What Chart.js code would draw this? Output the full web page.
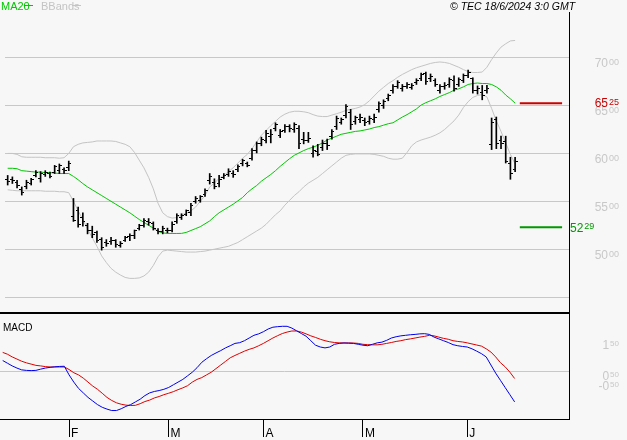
<!DOCTYPE html>
<html><head><meta charset="utf-8">
<script src="https://cdn.jsdelivr.net/npm/chart.js@4.4.1/dist/chart.umd.min.js"></script>
<style>
html,body{margin:0;padding:0;background:#f7f7f7;overflow:hidden}
#wrap{position:relative;width:627px;height:440px}
canvas{position:absolute;left:0}
#c1{top:0}
#c2{top:317px}
</style></head><body>
<div id="wrap"><canvas id="c1" width="627" height="317"></canvas><canvas id="c2" width="627" height="123"></canvas></div>
<script>
// ---- data (daily bars, 12 Jan 2024 .. 17 Jun 2024) ----
const opens  = [57.3,57.3,57.0,56.2,56.5,56.9,57.7,57.4,57.8,57.9,58.0,58.2,58.3,58.5,53.4,54.0,53.3,52.5,52.0,51.7,51.0,50.7,50.8,50.9,50.4,50.9,51.3,51.4,52.2,52.5,52.9,52.7,51.9,51.8,51.9,52.0,52.9,53.3,53.6,53.8,55.0,55.1,55.7,57.2,57.0,56.9,57.5,57.8,57.9,58.3,58.9,58.9,59.5,60.3,61.0,61.4,61.8,62.6,61.9,62.4,62.8,62.5,62.6,61.5,61.3,60.0,60.2,60.6,61.0,61.8,62.8,63.2,64.0,64.3,63.3,63.5,63.4,63.3,63.5,64.6,65.0,65.7,66.6,67.0,66.8,67.0,66.9,67.4,67.8,68.3,67.8,67.6,66.6,67.0,67.2,67.6,67.2,67.6,68.1,67.8,66.6,66.4,66.6,60.9,63.5,61.3,61.2,59.0,58.3];
const highs  = [57.7,57.55,57.2,56.5,57.2,57.4,58.2,58.1,58.2,58.05,58.75,58.9,58.5,59.2,55.3,54.4,53.8,52.7,52.4,51.9,51.2,51.0,51.25,51.0,50.8,51.35,51.6,52.0,52.6,53.2,53.2,52.85,52.15,52.4,52.2,52.85,53.7,53.7,54.1,54.8,55.5,55.6,56.3,57.9,57.35,57.7,57.9,58.4,58.2,58.8,59.4,59.1,60.5,61.2,61.7,62.4,62.5,63.2,62.5,63.0,63.0,63.2,62.9,62.2,62.2,60.8,60.95,61.4,61.5,62.5,63.9,63.7,65.1,64.6,63.9,64.1,63.7,63.9,64.1,65.4,65.6,66.2,67.2,67.6,67.2,67.4,67.3,67.8,68.4,68.5,68.3,67.8,67.2,67.4,67.9,68.1,67.9,68.3,68.7,67.9,67.05,67.1,67.1,63.7,63.8,61.8,61.8,59.6,59.6];
const lows   = [56.7,56.86,56.4,55.65,56.3,56.7,57.55,57.0,57.6,57.45,57.9,57.9,57.9,58.2,52.9,52.3,52.4,51.6,51.2,50.7,49.9,50.3,50.5,50.2,50.2,50.8,50.9,51.1,52.0,52.3,52.5,52.0,51.6,51.6,51.7,51.8,52.7,53.1,53.5,53.5,54.8,54.9,55.5,56.8,56.3,56.5,57.35,57.6,57.5,58.1,58.7,58.6,59.3,60.05,60.8,61.1,61.1,62.35,61.65,62.2,62.25,62.2,60.5,61.0,61.15,59.6,59.75,60.3,60.4,61.5,62.5,63.05,63.7,62.5,63.05,63.2,62.9,63.05,63.2,64.3,64.7,65.5,66.3,66.8,66.5,66.8,66.7,67.2,67.6,67.2,67.5,67.0,66.3,66.7,66.9,66.5,67.0,67.4,67.9,66.3,66.2,65.6,66.3,60.4,60.5,60.5,59.0,57.3,58.1];
const closes = [57.1,57.2,56.7,55.9,57.0,57.3,58.0,57.9,58.0,57.6,58.6,58.7,58.2,59.0,53.0,52.6,52.9,51.9,51.5,50.9,50.2,50.6,50.9,50.5,50.6,51.2,51.4,51.9,52.5,53.0,52.8,52.2,51.8,52.2,52.0,52.6,53.5,53.5,54.0,54.6,55.3,55.5,56.1,57.6,56.5,57.3,57.7,58.1,57.8,58.6,59.3,58.7,60.3,61.0,61.5,62.1,62.0,63.0,62.3,62.8,62.6,63.0,61.0,61.3,61.6,60.3,59.9,61.0,60.8,62.3,63.6,63.5,64.9,63.0,63.7,63.8,63.2,63.6,63.8,65.2,65.4,66.0,67.0,67.4,67.0,67.2,67.1,67.6,68.2,67.5,68.0,67.2,67.0,67.1,67.7,66.8,67.7,68.1,68.5,66.6,66.8,66.0,66.8,63.2,61.0,61.0,59.2,57.9,59.2];
const ma20   = [58.45,58.45,58.4,58.2,58.15,58.1,58.05,58.05,58.0,58.0,57.95,57.9,57.9,57.9,57.6,57.25,56.85,56.5,56.2,55.9,55.6,55.3,55.0,54.7,54.4,54.1,53.8,53.45,53.1,52.8,52.5,52.2,51.85,51.7,51.65,51.64,51.64,51.65,51.75,51.95,52.15,52.35,52.65,52.95,53.4,53.8,54.1,54.4,54.7,55.05,55.4,55.9,56.3,56.65,57.1,57.45,57.8,58.2,58.65,59.05,59.45,59.8,60.05,60.3,60.5,60.65,60.85,61.1,61.4,61.6,61.8,62.0,62.1,62.2,62.3,62.35,62.45,62.55,62.7,62.8,62.95,63.1,63.2,63.5,63.8,64.05,64.35,64.65,65.05,65.3,65.5,65.7,65.95,66.15,66.35,66.6,66.75,66.95,67.2,67.3,67.35,67.3,67.3,67.2,66.95,66.6,66.1,65.7,65.25];
const bbUpper= [60.0,60.0,59.9,59.65,59.6,59.6,59.6,59.6,59.55,59.55,59.55,59.5,59.55,60.0,60.7,60.95,61.1,61.15,61.2,61.3,61.3,61.3,61.3,61.25,61.1,60.95,60.7,60.1,59.3,58.5,57.5,56.3,54.8,53.8,53.4,53.25,53.3,53.6,53.75,54.0,54.4,55.0,55.6,56.5,56.9,57.4,57.7,58.1,58.5,59.0,59.5,59.9,60.5,61.2,61.9,62.4,62.9,63.35,63.8,64.1,64.3,64.4,64.4,64.35,64.25,64.05,63.9,63.85,63.85,64.0,64.15,64.3,64.5,64.6,64.7,64.85,65.1,65.5,66.0,66.5,66.9,67.3,67.6,67.95,68.25,68.5,68.75,68.95,69.1,69.25,69.4,69.5,69.55,69.5,69.4,69.2,69.0,68.75,68.55,68.45,68.45,68.5,69.0,69.8,70.5,71.1,71.45,71.75,71.8];
const bbLower= [56.2,56.15,56.1,56.1,56.1,56.1,56.1,56.1,56.05,56.05,56.05,56.0,56.0,55.9,55.0,54.0,53.1,52.1,51.2,50.3,49.3,48.6,48.0,47.6,47.3,47.05,46.95,46.95,47.0,47.2,47.6,48.3,49.2,49.8,49.9,49.85,49.8,49.75,49.7,49.7,49.7,49.75,49.8,49.9,50.0,50.1,50.2,50.3,50.5,50.7,51.0,51.3,51.6,51.9,52.2,52.6,53.1,53.6,54.0,54.6,55.1,55.6,56.0,56.5,56.9,57.2,57.5,57.9,58.3,58.7,59.1,59.5,59.8,59.9,59.95,59.95,59.95,59.95,59.9,59.8,59.7,59.5,59.4,59.4,59.5,60.1,60.8,61.2,61.4,61.55,61.7,61.9,62.15,62.5,62.95,63.4,64.0,64.8,65.4,65.85,66.05,66.15,65.9,64.7,63.4,62.3,61.1,59.9,58.9];
const macd   = [0.6,0.45,0.3,0.18,0.08,0.05,0.04,0.05,0.12,0.18,0.22,0.25,0.27,0.28,-0.2,-0.6,-0.95,-1.2,-1.45,-1.65,-1.85,-2.0,-2.1,-2.18,-2.18,-2.08,-1.95,-1.85,-1.7,-1.55,-1.35,-1.2,-1.12,-1.07,-1.0,-0.9,-0.75,-0.6,-0.45,-0.25,-0.05,0.2,0.5,0.7,0.88,1.02,1.15,1.3,1.42,1.55,1.59,1.7,1.85,2.0,2.08,2.2,2.35,2.45,2.48,2.5,2.5,2.4,2.25,2.1,1.95,1.7,1.45,1.35,1.3,1.35,1.5,1.55,1.57,1.56,1.55,1.5,1.45,1.42,1.5,1.58,1.62,1.72,1.85,1.92,1.97,2.0,2.03,2.05,2.08,2.09,2.05,1.9,1.8,1.7,1.6,1.48,1.42,1.38,1.35,1.25,1.12,0.98,0.8,0.35,-0.1,-0.5,-0.9,-1.3,-1.7];
const signal = [1.05,0.95,0.8,0.68,0.56,0.47,0.4,0.33,0.3,0.26,0.24,0.24,0.24,0.24,0.1,-0.08,-0.2,-0.38,-0.6,-0.82,-1.0,-1.22,-1.45,-1.62,-1.75,-1.83,-1.88,-1.9,-1.89,-1.8,-1.68,-1.6,-1.48,-1.4,-1.3,-1.22,-1.13,-1.02,-0.92,-0.8,-0.6,-0.45,-0.35,-0.2,-0.05,0.15,0.35,0.55,0.75,0.88,1.0,1.12,1.22,1.3,1.42,1.55,1.7,1.85,1.98,2.1,2.18,2.24,2.24,2.18,2.08,1.97,1.88,1.78,1.7,1.64,1.6,1.58,1.58,1.58,1.57,1.55,1.5,1.48,1.47,1.47,1.5,1.55,1.6,1.66,1.7,1.76,1.8,1.85,1.9,1.94,2.0,1.97,1.9,1.83,1.78,1.7,1.66,1.63,1.58,1.52,1.46,1.4,1.25,1.07,0.8,0.48,0.25,-0.05,-0.4];
const monthLabels = ['F','M','A','M','J'];
const monthIdx    = [14,35,55,76,98];
const priceGrid   = [45,50,55,60,65,70];
const priceLabels = [50,55,60,65,70];
const macdTickLabels = ['1.50','0.50','-0.50'];
const macdTickVals   = [1.46,-0.23,-0.82];
const levels      = [65.25,52.29];
const levelSpan   = [109,118];
const titleText   = '\u00A9 TEC 18/6/2024 3:0 GMT';

// ---- helpers ----
const xMin = -0.57, xMax = 119.47;
const pts = a => a.map((v,i)=>({x:i,y:v}));
function tickImg(left){
  const c=document.createElement('canvas'); c.width=5; c.height=1;
  const g=c.getContext('2d'); g.fillStyle='#000';
  if(left) g.fillRect(0,0,2,1); else g.fillRect(3,0,2,1);
  return c;
}
const openImg=tickImg(true), closeImg=tickImg(false);
const FF='"Liberation Sans", Arial, sans-serif';
const FN='"Liberation Sans Narrow", "Liberation Sans", Arial, sans-serif';
function splitLabel(ctx,str,x,baseline,color,align,big,small){
  const p=str.split('.'); const a=p[0], b=p[1]||'';
  ctx.font=big+'px '+FF; const wa=ctx.measureText(a).width;
  ctx.font=small+'px '+FF; const wb=ctx.measureText(b).width;
  const x0 = align==='right' ? x-wa-wb-1 : x;
  ctx.textAlign='left'; ctx.textBaseline='alphabetic'; ctx.fillStyle=color;
  ctx.font=big+'px '+FF; ctx.fillText(a,x0,baseline);
  ctx.font=small+'px '+FF; ctx.fillText(b,x0+wa+1,baseline-0.716*(big-small));
}
const bg={id:'bg',beforeDraw(ch){const c=ch.ctx;c.save();c.fillStyle='#f7f7f7';c.fillRect(0,0,ch.width,ch.height);c.restore();}};

const overlay1={id:'ov1',afterDraw(ch){
  const c=ch.ctx, y=ch.scales.y, a=ch.chartArea;
  c.save();
  // legend
  c.font='11px '+FN; c.textBaseline='alphabetic'; c.textAlign='left';
  c.fillStyle='#00c800'; c.fillText('MA20',1,10);
  c.fillRect(24,5,9,1);
  c.fillStyle='#c4c4c4'; c.fillText('BBands',41,10);
  c.fillRect(72,5,9,1);
  // title
  c.font='italic 10.5px '+FF; c.fillStyle='#000'; c.fillText(titleText,450,10);
  // price labels
  priceLabels.forEach(v=>splitLabel(c,v.toFixed(2),619,y.getPixelForValue(v)+9.5,'#c8c8c8','right',12,9));
  // level labels
  splitLabel(c,levels[0].toFixed(2),619,y.getPixelForValue(levels[0])+4.3,'#cc0000','right',12,9);
  splitLabel(c,levels[1].toFixed(2),570,y.getPixelForValue(levels[1])+4.3,'#009900','left',12,9);
  // frame
  c.fillStyle='#000';
  c.fillRect(a.right,12,1,ch.height-12);
  c.fillRect(0,a.bottom,a.right+1,2);
  c.restore();
}};
const overlay2={id:'ov2',afterDraw(ch){
  const c=ch.ctx, y=ch.scales.y, a=ch.chartArea;
  c.save();
  c.font='10px '+FF; c.fillStyle='#000'; c.textAlign='left'; c.textBaseline='alphabetic';
  c.fillText('MACD',3,14);
  macdTickLabels.forEach((t,i)=>splitLabel(c,t,619,y.getPixelForValue(macdTickVals[i])+4.3,'#c8c8c8','right',12,8));
  c.fillStyle='#000';
  c.fillRect(a.right,0,1,a.bottom+1);
  c.fillRect(0,a.bottom,a.right+1,1);
  c.restore();
}};

const common={responsive:false,devicePixelRatio:1,animation:false,events:[],
  plugins:{legend:{display:false},tooltip:{enabled:false}}};

new Chart(document.getElementById('c1'),{
  type:'line',
  data:{datasets:[
    {type:'bar',data:highs.map((h,i)=>({x:i,y:[lows[i],h]})),backgroundColor:'#000',barThickness:1,borderWidth:0},
    {type:'scatter',data:pts(opens),pointStyle:openImg,pointRadius:2},
    {type:'scatter',data:pts(closes),pointStyle:closeImg,pointRadius:2},
    {data:pts(ma20),borderColor:'#00c800',borderWidth:1,pointRadius:0,tension:0},
    {data:pts(bbUpper),borderColor:'#c4c4c4',borderWidth:1,pointRadius:0,tension:0},
    {data:pts(bbLower),borderColor:'#c4c4c4',borderWidth:1,pointRadius:0,tension:0},
    {data:[{x:levelSpan[0],y:levels[0]},{x:levelSpan[1],y:levels[0]}],borderColor:'#cc0000',borderWidth:2,pointRadius:0},
    {data:[{x:levelSpan[0],y:levels[1]},{x:levelSpan[1],y:levels[1]}],borderColor:'#009900',borderWidth:2,pointRadius:0}
  ]},
  options:{...common,
    layout:{padding:{top:14,bottom:3,left:0,right:0}},
    scales:{
      x:{type:'linear',min:xMin,max:xMax,display:false,offset:false},
      y:{type:'linear',position:'right',min:43.44,max:74.56,
         afterBuildTicks:s=>{s.ticks=priceGrid.map(v=>({value:v}));},
         afterFit:s=>{s.width=58;},
         grid:{color:'#c8c8c8',drawTicks:false},border:{display:false},ticks:{display:false}}
    }},
  plugins:[bg,overlay1]
});

new Chart(document.getElementById('c2'),{
  type:'line',
  data:{datasets:[
    {data:pts(macd),borderColor:'#0000ee',borderWidth:1,pointRadius:0,tension:0},
    {data:pts(signal),borderColor:'#dd0000',borderWidth:1,pointRadius:0,tension:0}
  ]},
  options:{...common,
    layout:{padding:{top:0,bottom:0,left:0,right:0}},
    scales:{
      x:{type:'linear',position:'bottom',min:xMin,max:xMax,offset:false,
         afterBuildTicks:s=>{s.ticks=monthIdx.map(v=>({value:v}));},
         afterFit:s=>{s.height=21;},
         grid:{drawOnChartArea:false,drawTicks:true,tickLength:18,color:'#000',tickWidth:1},
         border:{display:false},
         ticks:{autoSkip:false,maxRotation:0,align:'start',labelOffset:2,padding:-11,color:'#000',
                font:{family:FN,size:12},callback:(v,i)=>monthLabels[i]}},
      y:{type:'linear',position:'right',min:-2.65,max:3.017,
         afterBuildTicks:s=>{s.ticks=[{value:0}];},
         afterFit:s=>{s.width=58;},
         grid:{color:'#c8c8c8',drawTicks:false},border:{display:false},ticks:{display:false}}
    }},
  plugins:[bg,overlay2]
});
</script>
</body></html>
